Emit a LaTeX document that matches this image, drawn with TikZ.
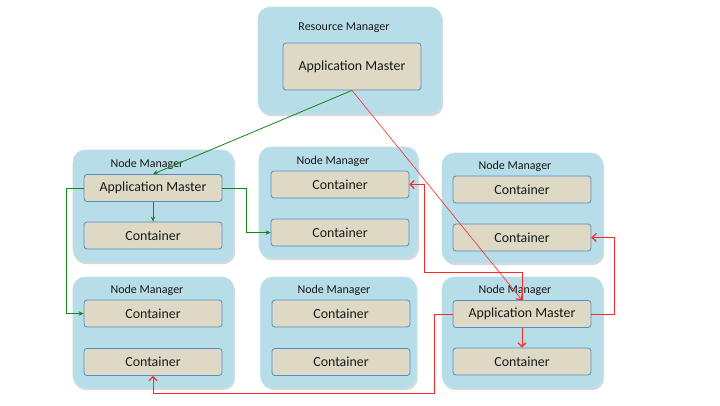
\documentclass[tikz,border=0pt]{standalone}
\usepackage{fontspec}
\setmainfont{Carlito}
\usetikzlibrary{arrows.meta,shadows,positioning,calc}
\definecolor{outerfill}{RGB}{183,221,232}
\definecolor{innerfill}{RGB}{221,217,196}
\definecolor{innerdraw}{RGB}{90,140,200}
\definecolor{gline}{RGB}{20,135,20}
\definecolor{rline}{RGB}{255,40,40}
\definecolor{txt}{RGB}{25,25,25}
\tikzset{
  outerbox/.style={fill=outerfill, draw=outerfill!85!white, line width=0.6pt, rounded corners=12pt, minimum width=#1, drop shadow={shadow xshift=1.2pt,shadow yshift=-2.2pt,opacity=0.3}},
  innerbox/.style={fill=innerfill, draw=innerdraw, line width=0.8pt, rounded corners=3pt, minimum width=138pt, minimum height=27pt, font=\fontsize{13.9}{15}\selectfont, text=txt, inner sep=0pt},
  nmlabel/.style={font=\fontsize{12}{13}\selectfont, text=txt, inner sep=0pt},
  garrow/.style={draw=gline, line width=0.8pt, -{Stealth[length=5pt,width=4.5pt]}},
  rarrow/.style={draw=rline, line width=1pt, -{Straight Barb[length=4pt,width=8pt,line width=1.2pt]}},
  rthin/.style={draw=rline, line width=0.6pt, -{Straight Barb[length=4pt,width=8pt,line width=1.2pt]}}
}
\begin{document}
\begin{tikzpicture}[x=1pt,y=-1pt]
\useasboundingbox[fill=white] (0,0) rectangle (720,405);
% outer boxes
\node[outerbox=184pt, minimum height=107pt] (rm) at (350,60.5) {};
\node[outerbox=161pt, minimum height=112pt] (nm1) at (153.5,206) {};
\node[outerbox=159pt, minimum height=111pt] (nm2) at (338.5,202.5) {};
\node[outerbox=161pt, minimum height=110pt] (nm3) at (522.5,208) {};
\node[outerbox=161pt, minimum height=111pt] (nm4) at (153.5,332.5) {};
\node[outerbox=156pt, minimum height=111pt] (nm5) at (338.5,332.5) {};
\node[outerbox=161pt, minimum height=111pt] (nm6) at (522.5,332.5) {};
% labels
\node[nmlabel] (rml) at (344,28) {Resource Manager};
\node[nmlabel] (nm1l) at (147,164) {Node Manager};
\node[nmlabel] (nm2l) at (333,161) {Node Manager};
\node[nmlabel] (nm3l) at (515,166) {Node Manager};
\node[nmlabel] (nm4l) at (147,290) {Node Manager};
\node[nmlabel] (nm5l) at (334,290) {Node Manager};
\node[nmlabel] (nm6l) at (515,290) {Node Manager};
% inner boxes
\node[innerbox, minimum height=47pt] (rmam) at (352,66.5) {Application Master};
\node[innerbox] (nm1am) at (153,188) {Application Master};
\node[innerbox] (nm1c) at (153,235.5) {Container};
\node[innerbox] (nm2c1) at (340,184.5) {Container};
\node[innerbox] (nm2c2) at (340,232.5) {Container};
\node[innerbox] (nm3c1) at (522,189.5) {Container};
\node[innerbox] (nm3c2) at (522,237.5) {Container};
\node[innerbox] (nm4c1) at (153,313.5) {Container};
\node[innerbox] (nm4c2) at (153,362) {Container};
\node[innerbox] (nm5c1) at (341,313.5) {Container};
\node[innerbox] (nm5c2) at (341,362) {Container};
\node[innerbox] (nm6am) at (522,314) {Application Master};
\node[innerbox] (nm6c) at (522,361.5) {Container};
% coordinates
\coordinate (r2a) at (424,272);
\coordinate (r5a) at (434,393);
% green connectors
\draw[garrow] (rmam.south) -- (nm1am.north);
\draw[garrow] (nm1am.south) -- (nm1c.north);
\draw[garrow] (nm1am.east) -- ++(24,0) |- (nm2c2.west);
\draw[garrow] (nm1am.west) -- ++(-17,0) |- (nm4c1.west);
% red connectors
\draw[rthin] (rmam.south) -- (nm6am.north);
\draw[rarrow] (nm6am.north) |- (r2a) |- (nm2c1.east);
\draw[rarrow] (nm6am.east) -- ++(23,0) |- (nm3c2.east);
\draw[rarrow] (nm6am.south) -- (nm6c.north);
\draw[rarrow] (nm6am.west) -| (r5a) -| (nm4c2.south);
\end{tikzpicture}
\end{document}
